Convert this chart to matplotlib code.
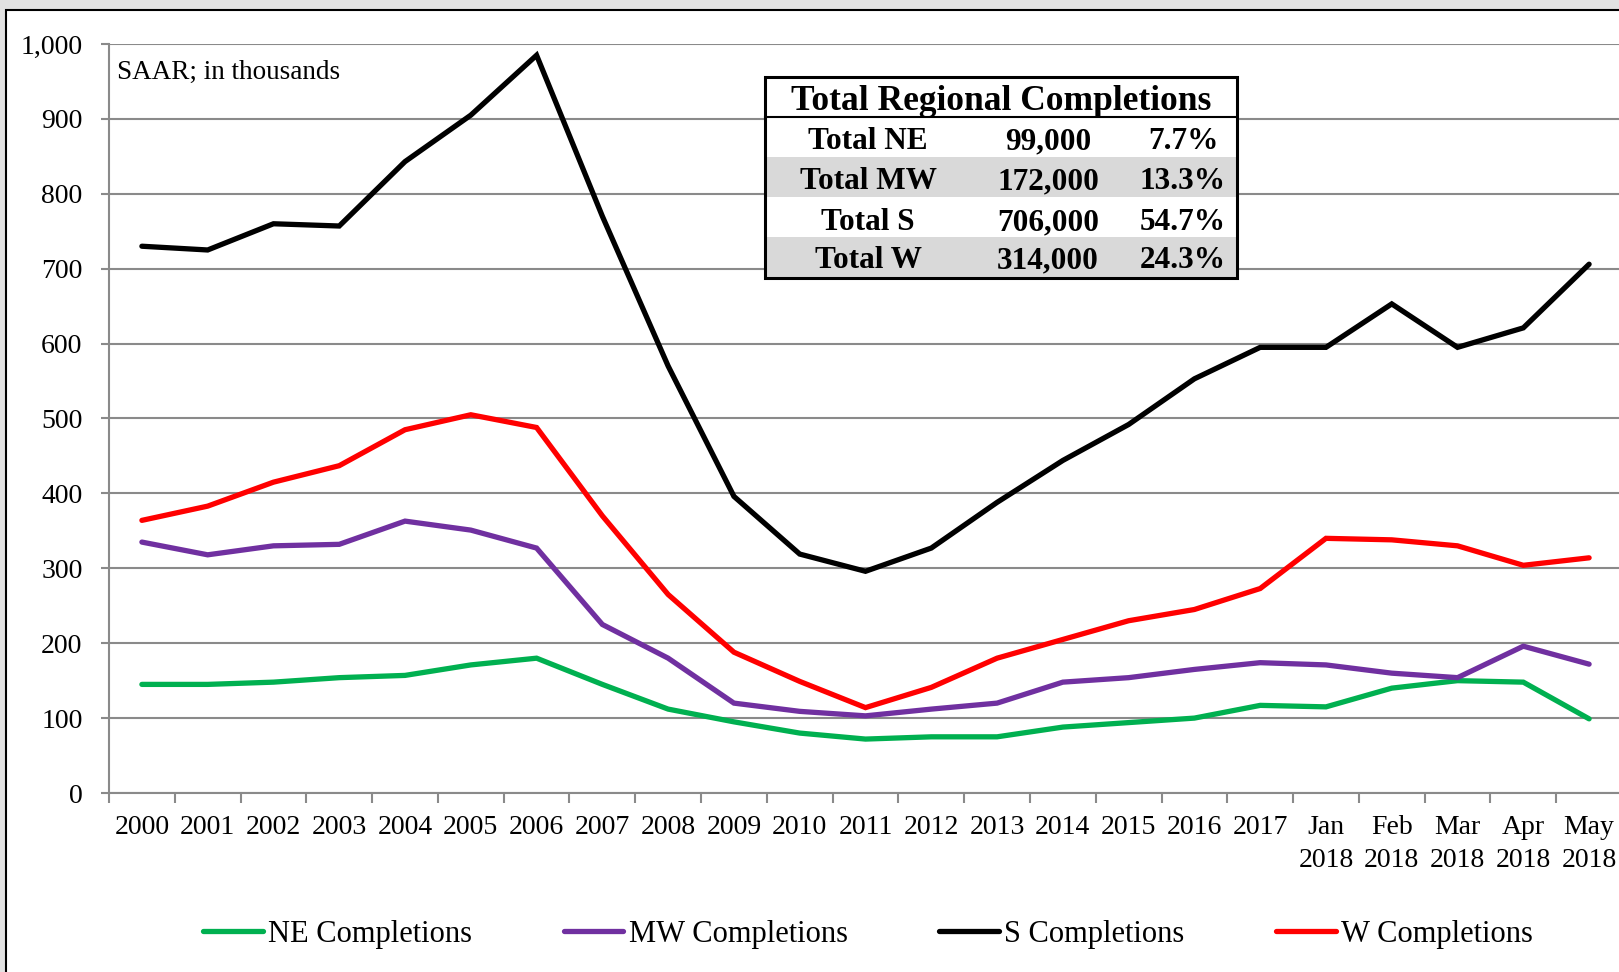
import matplotlib
matplotlib.use('Agg')
import matplotlib.pyplot as plt
from matplotlib.patches import Rectangle
from matplotlib.lines import Line2D
from matplotlib.ticker import FuncFormatter

# ---------------- data ----------------
categories = ['2000', '2001', '2002', '2003', '2004', '2005', '2006', '2007',
              '2008', '2009', '2010', '2011', '2012', '2013', '2014', '2015',
              '2016', '2017', 'Jan\n2018', 'Feb\n2018', 'Mar\n2018',
              'Apr\n2018', 'May\n2018']

ne_completions = [145, 145, 148, 154, 157, 171, 180, 145, 112, 95, 80, 72,
                  75, 75, 88, 94, 100, 117, 115, 140, 150, 148, 99]
mw_completions = [335, 318, 330, 332, 363, 351, 327, 225, 180, 120, 109, 103,
                  112, 120, 148, 154, 165, 174, 171, 160, 154, 196, 172]
s_completions = [730, 725, 760, 757, 843, 905, 985, 770, 570, 396, 319, 296,
                 327, 388, 444, 492, 553, 595, 595, 653, 595, 621, 706]
w_completions = [364, 383, 415, 437, 485, 505, 488, 370, 265, 188, 149, 114,
                 141, 180, 205, 230, 245, 273, 340, 338, 330, 304, 314]

series_names = ['NE Completions', 'MW Completions', 'S Completions', 'W Completions']
series_colors = ['#00b050', '#7030a0', '#000000', '#ff0000']

table_title = 'Total Regional Completions'
table_regions = ['Total NE', 'Total MW', 'Total S', 'Total W']
table_totals = ['99,000', '172,000', '706,000', '314,000']
table_shares = ['7.7%', '13.3%', '54.7%', '24.3%']

y_ticks = [0, 100, 200, 300, 400, 500, 600, 700, 800, 900, 1000]
note_text = 'SAAR; in thousands'

# ---------------- figure ----------------
plt.rcParams['font.family'] = ['Liberation Serif', 'DejaVu Serif']
W, H = 1619, 972
fig = plt.figure(figsize=(W / 100, H / 100), dpi=100, facecolor='#e2e2e2')


def fx(px):
    return px / W


def fy(py):
    return 1 - py / H


frame = Rectangle((fx(6), fy(990)), fx(1650) - fx(6), fy(10) - fy(990),
                  transform=fig.transFigure, facecolor='white',
                  edgecolor='black', lw=1.5, zorder=-5)
fig.patches.append(frame)

ax = fig.add_axes([fx(109), fy(793), (1622 - 109) / W, (793 - 44) / H])
ax.patch.set_visible(False)

grid_color = '#8a8a8a'
x = list(range(len(categories)))
all_series = [ne_completions, mw_completions, s_completions, w_completions]
for vals, name, col in zip(all_series, series_names, series_colors):
    ax.plot(x, vals, color=col, lw=3.8, label=name,
            solid_capstyle='round', solid_joinstyle='miter', zorder=3)

ax.set_xlim(-0.5, len(categories) - 0.5)
ax.set_ylim(0, 1000)
ax.set_yticks(y_ticks)
ax.yaxis.set_major_formatter(FuncFormatter(lambda v, p: f'{int(v):,}'))
ax.grid(axis='y', color=grid_color, lw=1.5, zorder=1)
ax.set_axisbelow(True)

# x ticks: marks at category boundaries, labels at centres
ax.set_xticks([i - 0.5 for i in range(len(categories) + 1)])
ax.set_xticklabels([])
ax.set_xticks(x, minor=True)
ax.set_xticklabels(categories, minor=True, fontsize=20, linespacing=1.45)
ax.tick_params(axis='x', which='major', length=7, width=1.5, color=grid_color,
               direction='out')
ax.tick_params(axis='x', which='minor', length=0, pad=15.5)
ax.tick_params(axis='y', length=6, width=1.5, color=grid_color,
               direction='out', pad=13, labelsize=20)

for s in ['top', 'right']:
    ax.spines[s].set_visible(False)
for s in ['left', 'bottom']:
    ax.spines[s].set_color(grid_color)
    ax.spines[s].set_linewidth(1.5)

fig.text(fx(117), fy(79), note_text, fontsize=19.5, ha='left', va='baseline')

# ---------------- table ----------------
tx0, tx1 = 765, 1237
row_edges = [77, 117, 157, 197, 237, 278]
row_fill = ['white', 'white', '#d9d9d9', 'white', '#d9d9d9']
for i in range(5):
    r = Rectangle((fx(tx0), fy(row_edges[i + 1])), fx(tx1) - fx(tx0),
                  fy(row_edges[i]) - fy(row_edges[i + 1]),
                  transform=fig.transFigure, facecolor=row_fill[i],
                  edgecolor='none', zorder=5)
    fig.patches.append(r)
outline = Rectangle((fx(tx0), fy(row_edges[-1])), fx(tx1) - fx(tx0),
                    fy(row_edges[0]) - fy(row_edges[-1]),
                    transform=fig.transFigure, facecolor='none',
                    edgecolor='black', lw=2.2, zorder=7)
fig.patches.append(outline)
fig.lines.append(Line2D([fx(tx0), fx(tx1)], [fy(117), fy(117)],
                        transform=fig.transFigure, color='black', lw=1.5,
                        zorder=7))

fig.text(fx((tx0 + tx1) / 2), fy(110), table_title, fontsize=25.5,
         fontweight='bold', ha='center', va='baseline', zorder=8)
col_x = [868, 1048, 1183]
baselines = [149, 189, 230, 268]
for j in range(4):
    for cx, txt in zip(col_x, [table_regions[j], table_totals[j], table_shares[j]]):
        fig.text(fx(cx), fy(baselines[j]), txt, fontsize=22.5,
                 fontweight='bold', ha='center', va='baseline', zorder=8)

# ---------------- legend ----------------
handles = [Line2D([0], [0], color=c, lw=3.8, solid_capstyle='round')
           for c in series_colors]
fig.legend(handles, series_names, loc='center', ncol=4, frameon=False,
           bbox_to_anchor=(fx(868), fy(934)), fontsize=22,
           handlelength=1.95, handletextpad=0.17, columnspacing=3.0,
           borderaxespad=0, borderpad=0)

fig.savefig('out.png', dpi=100, facecolor=fig.get_facecolor())
